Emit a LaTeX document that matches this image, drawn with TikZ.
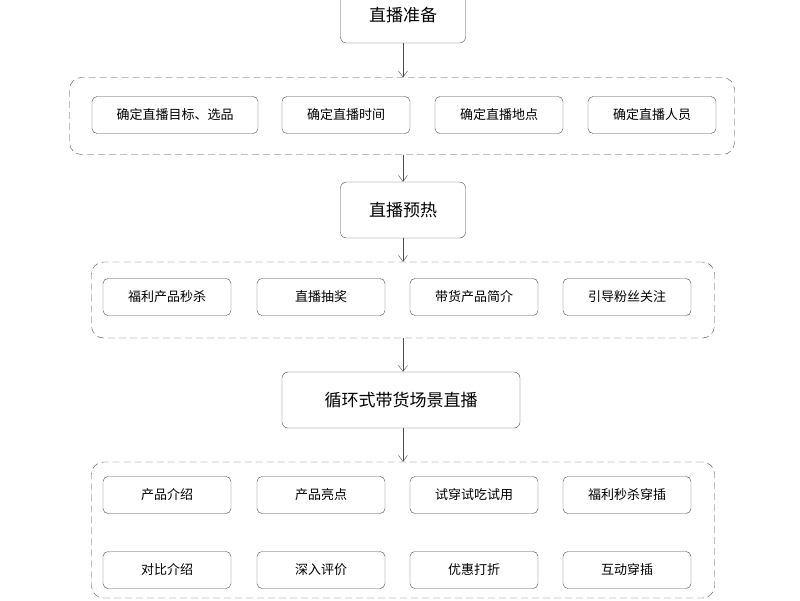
\documentclass[tikz,border=0pt]{standalone}
\usepackage{fontspec}
\setmainfont{Noto Sans CJK SC}
\usetikzlibrary{arrows.meta}
\tikzset{
  stage/.style={draw=gray!60!black, rounded corners=6pt, minimum height=56pt, font=\fontsize{17}{20}\selectfont, fill=white},
  item/.style={draw=gray!60!black, rounded corners=5pt, minimum height=37pt, minimum width=128pt, font=\fontsize{13}{16}\selectfont},
  group/.style={draw=gray!60!black, dashed, dash pattern=on 7pt off 4pt, rounded corners=12pt},
  flow/.style={-{Straight Barb[length=6pt,width=9pt]}, gray!60!black}
}
\begin{document}
\begin{tikzpicture}[x=1pt,y=-1pt]
		\useasboundingbox (0,0) rectangle (800,600);

		%Stufen
		\node[stage, minimum width=125pt] (prep) at (403,15) {直播准备};
		\node[stage, minimum width=125pt] (warm) at (403,210) {直播预热};
		\node[stage, minimum width=238pt] (loop) at (401,400) {循环式带货场景直播};

		%Gruppen
		\node[group, minimum width=665pt, minimum height=77pt] (g1) at (402,116) {};
		\node[group, minimum width=623pt, minimum height=76pt] (g2) at (403,300) {};
		\node[group, minimum width=623pt, minimum height=136pt] (g3) at (403,530) {};

		%Vorbereitung
		\node[item, minimum width=166pt] (goal) at (175,115) {确定直播目标、选品};
		\node[item] (time) at (346,115) {确定直播时间};
		\node[item] (place) at (499,115) {确定直播地点};
		\node[item] (staff) at (652,115) {确定直播人员};

		%Vorwaermen
		\node[item] (flash) at (167,297) {福利产品秒杀};
		\node[item] (draw) at (321,297) {直播抽奖};
		\node[item] (intro) at (474,297) {带货产品简介};
		\node[item] (fans) at (627,297) {引导粉丝关注};

		%Schleife
		\node[item] (prod) at (167,495) {产品介绍};
		\node[item] (high) at (321,495) {产品亮点};
		\node[item] (try) at (474,495) {试穿试吃试用};
		\node[item] (bonus) at (627,495) {福利秒杀穿插};
		\node[item] (cmp) at (167,570) {对比介绍};
		\node[item] (eval) at (321,570) {深入评价};
		\node[item] (disc) at (474,570) {优惠打折};
		\node[item] (inter) at (627,570) {互动穿插};

		%Pfeile
		\draw[flow] (prep.south) -- (prep.south |- g1.north);
		\draw[flow] (warm.north |- g1.south) -- (warm.north);
		\draw[flow] (warm.south) -- (warm.south |- g2.north);
		\draw[flow] (g2.south) -- (g2.south |- loop.north);
		\draw[flow] (loop.south -| g3.north) -- (g3.north);
\end{tikzpicture}
\end{document}
